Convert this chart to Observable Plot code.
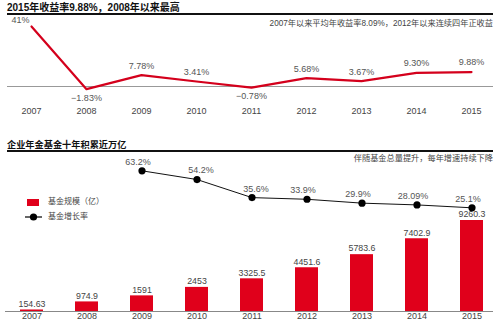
<!DOCTYPE html>
<html>
<head>
<meta charset="utf-8">
<script src="https://cdn.jsdelivr.net/npm/d3@7"></script>
<script src="https://cdn.jsdelivr.net/npm/@observablehq/plot@0.6"></script>
<style>
  html, body { margin: 0; padding: 0; background: #fff; }
  #wrap { position: relative; width: 500px; height: 322px; overflow: hidden;
    font-family: "Liberation Sans", "Noto Sans CJK SC", sans-serif; }
  .abs { position: absolute; white-space: nowrap; }
  .title { font-weight: bold; color: #111; }
  .sub { color: #444; }
  .rule { position: absolute; background: #111; height: 2px; }
  svg.plot-layer { position: absolute; left: 0; }
</style>
</head>
<body>
<div id="wrap">
  <div class="abs title" style="left:7px; top:2px; font-size:10px; line-height:11px;">2015年收益率9.88%，2008年以来最高</div>
  <div class="rule" style="left:7px; top:13px; width:486px;"></div>
  <div class="abs sub" style="right:7px; top:19px; font-size:8.2px; line-height:10px;">2007年以来平均年收益率8.09%，2012年以来连续四年正收益</div>

  <div class="abs title" style="left:7px; top:140px; font-size:9.2px; line-height:10px;">企业年金基金十年积累近万亿</div>
  <div class="rule" style="left:7px; top:150px; width:486px;"></div>
  <div class="abs sub" style="right:7px; top:154px; font-size:8.2px; line-height:10px;">伴随基金总量提升，每年增速持续下降</div>

  <div class="abs" style="left:27px; top:199px; width:12px; height:7px; background:#e0001b;"></div>
  <div class="abs sub" style="left:48px; top:197px; font-size:8px; line-height:10px;">基金规模（亿）</div>
  <svg class="abs" style="left:22px; top:211px;" width="24" height="12">
    <line x1="3" y1="6" x2="20" y2="6" stroke="#000" stroke-width="1.2"></line>
    <circle cx="11.5" cy="6" r="3.6" fill="#000"></circle>
  </svg>
  <div class="abs sub" style="left:48px; top:212px; font-size:8px; line-height:10px;">基金增长率</div>
</div>
<script>
// ---- data ----
const years = ["2007", "2008", "2009", "2010", "2011", "2012", "2013", "2014", "2015"];
const returns = [41, -1.83, 7.78, 3.41, -0.78, 5.68, 3.67, 9.30, 9.88];
const returnLabels = ["41%", "−1.83%", "7.78%", "3.41%", "−0.78%", "5.68%", "3.67%", "9.30%", "9.88%"];

const fundSize = [154.63, 974.9, 1591, 2453, 3325.5, 4451.6, 5783.6, 7402.9, 9260.3];
const fundLabels = ["154.63", "974.9", "1591", "2453", "3325.5", "4451.6", "5783.6", "7402.9", "9260.3"];

const growthYears = ["2009", "2010", "2011", "2012", "2013", "2014", "2015"];
const growth = [63.2, 54.2, 35.6, 33.9, 29.9, 28.09, 25.1];
const growthLabels = ["63.2%", "54.2%", "35.6%", "33.9%", "29.9%", "28.09%", "25.1%"];

// ---- tables ----
const topData = years.map((y, i) => ({year: y, value: returns[i], label: returnLabels[i], i}));
const barData = years.map((y, i) => ({year: y, size: fundSize[i], label: fundLabels[i]}));
const growthData = growthYears.map((y, i) => ({year: y, rate: growth[i], label: growthLabels[i], i}));

const FONT = '"Liberation Sans", "Noto Sans CJK SC", sans-serif';
const RED_LINE = "#d4001c";
const RED_BAR = "#e0001b";
const wrap = document.getElementById("wrap");

function place(svg, top) {
  svg.classList.add("plot-layer");
  svg.style.top = top + "px";
  svg.style.position = "absolute";
  svg.style.left = "0px";
  wrap.appendChild(svg);
}

// ---- top: annual return line ----
const topPlot = Plot.plot({
  width: 500, height: 125,
  marginLeft: 7, marginRight: 7, marginTop: 0, marginBottom: 20,
  style: {background: "transparent", fontFamily: FONT, fontSize: "9px", color: "#444", overflow: "visible"},
  x: {type: "point", domain: years, range: [28, 473], padding: 0, axis: "bottom", tickSize: 0, tickPadding: 2, label: null},
  y: {domain: [0, 41], range: [86, 26], axis: null},
  marks: [
    Plot.ruleY([0], {stroke: "#999", strokeWidth: 1}),
    Plot.line(topData, {x: "year", y: "value", stroke: RED_LINE, strokeWidth: 2.2, strokeLinejoin: "round"}),
    Plot.text(topData, {filter: d => d.i === 0, x: "year", y: "value", text: "label", dx: -11, dy: -6, fill: "#555", fontSize: 9}),
    Plot.text(topData, {filter: d => d.i > 0 && d.value >= 0, x: "year", y: "value", text: "label", dy: -9.5, fill: "#555", fontSize: 9}),
    Plot.text(topData, {filter: d => d.value < 0, x: "year", y: "value", text: "label", dy: 8.5, fill: "#555", fontSize: 9})
  ]
});
place(topPlot, 0);

// ---- bottom: fund size bars ----
const bandX = {type: "band", domain: years, range: [-0.5, 502.6], paddingInner: 0.59, paddingOuter: 0.295};
const barPlot = Plot.plot({
  width: 500, height: 190,
  marginLeft: 5, marginRight: 7, marginTop: 0, marginBottom: 11,
  style: {background: "transparent", fontFamily: FONT, fontSize: "9px", color: "#444", overflow: "visible"},
  x: {...bandX, axis: "bottom", tickSize: 0, tickPadding: 1, label: null},
  y: {domain: [0, 9260.3], range: [179, 88], axis: null},
  marks: [
    Plot.barY(barData, {x: "year", y: "size", fill: RED_BAR}),
    Plot.ruleY([0], {stroke: "#888", strokeWidth: 1}),
    Plot.text(barData, {x: "year", y: "size", text: "label", dy: -6, fill: "#444", fontSize: 8.8})
  ]
});
place(barPlot, 132);

// ---- bottom: growth rate line ----
const growthPlot = Plot.plot({
  width: 500, height: 190,
  marginLeft: 5, marginRight: 7, marginTop: 0, marginBottom: 11,
  style: {background: "transparent", fontFamily: FONT, fontSize: "9px", color: "#444", overflow: "visible"},
  x: {...bandX, axis: null},
  y: {domain: [0, 63.2], range: [99.7, 38.3], axis: null},
  marks: [
    Plot.line(growthData, {x: "year", y: "rate", stroke: "#111", strokeWidth: 1}),
    Plot.dot(growthData, {x: "year", y: "rate", r: 3.6, fill: "#000"}),
    Plot.text(growthData, {filter: d => d.i === 1 || d.i === 2, x: "year", y: "rate", text: "label", dx: 4, dy: -9, fill: "#555", fontSize: 9}),
    Plot.text(growthData, {filter: d => d.i !== 1 && d.i !== 2, x: "year", y: "rate", text: "label", dx: -4, dy: -9, fill: "#555", fontSize: 9})
  ]
});
place(growthPlot, 132);
</script>
</body>
</html>
